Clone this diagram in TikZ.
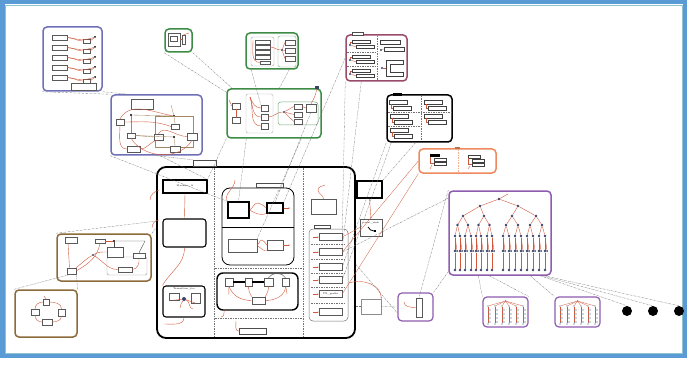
\documentclass[tikz,border=0pt]{standalone}
\usetikzlibrary{fit,arrows.meta}
\definecolor{frameblue}{HTML}{5B9BD5}
\definecolor{frameteal}{HTML}{8CC3CF}
\definecolor{indigo}{HTML}{7070B8}
\definecolor{grn}{HTML}{3D8C45}
\definecolor{maroon}{HTML}{9A4B6B}
\definecolor{orng}{HTML}{EE8A5E}
\definecolor{purp}{HTML}{8E5CB2}
\definecolor{brwn}{HTML}{8C6A3C}
\definecolor{linkred}{HTML}{D2583C}
\definecolor{dotblue}{HTML}{3B4468}
\newcommand\tx{\fontsize{2.4}{2.8}\selectfont}
\tikzset{
 grp/.style={draw=#1, line width=1.5pt, rounded corners=4pt, inner sep=0pt},
 sbx/.style={draw=black!65, line width=0.35pt, inner sep=0pt, fill=white},
 tbx/.style={draw=black, line width=1.1pt, inner sep=0pt, fill=white},
 gline/.style={draw=black!55, line width=0.3pt, dash pattern=on 2pt off 0.8pt on 0.4pt off 0.8pt},
 rline/.style={draw=linkred, line width=0.4pt},
 bline/.style={draw=brwn!80, line width=0.35pt},
 sdot/.style={circle, fill=#1, inner sep=0pt, minimum size=2.4pt},
 tdot/.style={circle, fill=dotblue, inner sep=0pt, minimum size=2.6pt},
 bigdot/.style={circle, fill=black, inner sep=0pt, minimum size=10pt},
 sepl/.style={draw=black!55, line width=0.35pt, dash pattern=on 1.5pt off 1pt},
 tabbox/.style={draw=black!70, line width=0.4pt, inner sep=0pt, fill=white},
 bar/.style={draw=black!75, line width=0.4pt, inner sep=0pt, fill=white},
}
\begin{document}
\begin{tikzpicture}[x=1pt,y=-1pt]
\useasboundingbox (0,0) rectangle (687,366);
% frame
\fill[frameblue] (0,0) rectangle (687,358);
\fill[white] (4.5,4.5) rectangle (683,354);
\draw[frameteal, line width=0.6pt] (5.5,5.5) rectangle (682,353);

% ---------------- satellite boxes ----------------
% A (indigo, rows)
\node[grp=indigo, fit={(43,27)(102,91)}] (A) {};
\foreach \i in {0,...,4}{
  \pgfmathsetmacro\yy{38+10*\i}
  \node[sbx, fit={(52,{\yy-3})(67,{\yy+2})}] (A-l\i) {};
  \node[sbx, fit={(83,{\yy+1})(90,{\yy+5})}] (A-r\i) {};
  \node[sdot=black, minimum size=2pt] (A-d\i) at (95,{\yy-1}) {};
  \draw[rline] (A-l\i.east) to[out=0,in=180] (A-r\i.west);
  \draw[rline] (A-l\i.east) to[out=-10,in=200] (A-d\i);
  \draw[rline] (A-r\i.east) -- (A-d\i);
}
\node[sbx, fit={(71,83)(96,90)}] (A-b) {};

% B (indigo)
\node[grp=indigo, fit={(111,95)(202,155)}] (B) {};
\node[sbx, fit={(131,99)(153,109)}] (B1) {};
\node[sdot=black] (Bd1) at (131,115) {};
\node[sdot=black] (Bd2) at (174,116) {};
\node[sdot=black] (Bd3) at (174,137) {};
\draw[bline] (155,116) rectangle (193,147);
\node[sbx, fit={(116,119)(124,125)}] (B2) {};
\node[sbx, fit={(127,133)(135,138)}] (B3) {};
\node[sbx, fit={(127,146)(140,152)}] (B4) {};
\node[sbx, fit={(154,134)(163,140)}] (B5) {};
\node[sbx, fit={(171,124)(179,129)}] (B6) {};
\node[sbx, fit={(187,133)(197,140)}] (B7) {};
\node[sbx, fit={(170,146)(180,152)}] (B8) {};
\draw[bline] (Bd1) -- (Bd2);
\draw[bline] (Bd1) -- (B3.north);
\draw[bline] (171,105) -- (Bd2);
\draw[bline] (Bd2) -- (B6.north);
\draw[bline] (B3.east) -- (B5.west);
\draw[bline] (B3.east) -- (Bd3);
\draw[bline] (Bd3) -- (B8.north);
\draw[rline] (B2.south) to[out=-90,in=180] (B4.west);
\draw[rline] (B2.east) to[out=0,in=160] (B6.west);
\draw[rline] (B3.south) to[out=-60,in=-120] (B7.south);
\draw[rline] (B4.east) to[out=0,in=180] (B5.south);
\draw[rline] (B5.north) to[out=60,in=180] (B7.west);
\draw[rline] (B2.north) to[out=60,in=170] (Bd2);

% C (green small)
\node[grp=grn, fit={(165,29)(192,52)}] (C) {};
\node[sbx, fit={(168,33)(180,46)}] (C1) {};
\node[sbx, fit={(170,36)(177,41)}] (C2) {};
\node[sbx, fit={(182,35)(185,44)}] (C3) {};
\draw[rline] (C3.north) -- (189,33);
\draw[rline] (C1.east) -- (C3.west);

% D (green)
\node[grp=grn, fit={(246,33)(298,69)}] (D) {};
\draw[draw=black!35, line width=0.4pt, rounded corners=2pt] (251,37) rectangle (274,66);
\draw[draw=grn!70, line width=0.4pt, rounded corners=2pt] (278,36) rectangle (296,67);
\foreach \i in {0,...,3}{\node[sbx, fit={(255,{40+5*\i})(270,{44+5*\i})}] (D-s\i) {};}
\node[sbx, fit={(260,61)(270,64)}] (D-b) {};
\node[sdot=dotblue] (Dd) at (282,50) {};
\foreach \i in {0,...,2}{\node[sbx, fit={(285,{40+8*\i})(295,{45+8*\i})}] (D-r\i) {}; \draw[rline] (Dd) -- (D-r\i.west);}
\draw[rline] (D-s1.east) to[out=0,in=180] (Dd);
\draw[rline] (253,40) to[out=-90,in=180] (D-b.west);

% E (green big)
\node[grp=grn, fit={(227,89)(321,138)}] (E) {};
\draw[draw=black!30, line width=0.4pt, rounded corners=2pt] (246,94) rectangle (273,133);
\draw[draw=grn!70, line width=0.5pt, rounded corners=3pt] (278,102) rectangle (318,125);
\node[sbx, fit={(232,103)(240,109)}] (E1) {};
\node[sbx, fit={(232,117)(240,123)}] (E2) {};
\draw[rline] (E1.south) -- (E2.north);
\draw[rline] (229,100) -- (E1.west);
\foreach \i in {0,...,2}{\node[sbx, fit={(261,{105+9*\i})(268,{111+9*\i})}] (E-m\i) {};
  \draw[rline] (250,97) to[out=-70,in=180] (E-m\i.west);}
\node[sdot=dotblue] (Ed) at (284,112) {};
\node[sbx, fit={(294,104)(302,109)}] (E-r1) {};
\node[sbx, fit={(294,112)(302,117)}] (E-r2) {};
\node[sbx, fit={(294,119)(302,124)}] (E-r3) {};
\node[sbx, fit={(306,104)(316,112)}] (E-r4) {};
\foreach \n in {E-r1,E-r2,E-r3}{\draw[rline] (Ed) -- (\n.west);}
\draw[rline] (E-r1.east) -- (E-r4.west);
\draw[rline] (E-m1.east) to[out=0,in=180] (Ed);
\node[fill=dotblue, inner sep=0pt, minimum size=3.5pt] (Esq) at (317,87.5) {};
\draw[rline] (Esq) to[out=-100,in=60] (E-r4.north);

% F (maroon)
\node[grp=maroon, fit={(346,35)(407,81)}] (F) {};
\node[tabbox, fit={(352,32)(363,35)}] (Ftab) {};
\draw[sepl] (377,36) -- (377,80);
\draw[sepl] (347,52) -- (376,52);
\draw[sepl] (347,66) -- (376,66);
\foreach \i/\yy in {0/40,1/55,2/69}{
  \node[bar, fit={(352,\yy)(370,{\yy+3.5})}] (F-a\i) {};
  \node[bar, fit={(356,{\yy+5})(374,{\yy+8.5})}] (F-b\i) {};
  \node[sdot=dotblue] (F-d\i) at (350,{\yy+5}) {};
  \draw[rline] (F-d\i) -- (F-b\i.west);
  \draw[rline] (F-d\i) |- (F-a\i.west);
}
\node[bar, fit={(380,40)(400,44)}] (F-c1) {};
\node[bar, fit={(384,47)(404,51)}] (F-c2) {};
\node[sdot=dotblue] (F-d3) at (381,50) {};
\draw[rline] (F-d3) -- (F-c2.west);
\draw[black!75, line width=0.4pt] (386,60) -- (403,60) -- (403,64) -- (390,64) -- (390,72) -- (403,72) -- (403,76) -- (386,76) -- cycle;
\node[sdot=dotblue] (F-d4) at (382,68) {};
\draw[rline] (F-d4) -- (386,68);

% G (black)
\node[grp=black, fit={(387,95)(452,142)}] (G) {};
\node[fill=black, inner sep=0pt, fit={(393,93)(402,96)}] (Gtab) {};
\draw[sepl] (421,96) -- (421,141);
\draw[sepl] (388,112) -- (451,112);
\draw[sepl] (388,126) -- (420,126);
\foreach \i/\xa/\yy in {0/389/100,1/390/114,2/390/128,3/424/100,4/424/114}{
  \node[bar, fit={(\xa,\yy)({\xa+18},{\yy+4})}] (G-a\i) {};
  \node[bar, fit={({\xa+4},{\yy+6})({\xa+22},{\yy+10})}] (G-b\i) {};
  \draw[rline] (G-a\i.south west) ++(2,0) |- (G-b\i.west);
}

% H (orange)
\node[grp=orng, fit={(419,149)(496,173)}] (H) {};
\node[fill=orng!80!black, inner sep=0pt, fit={(455,147)(460,149.5)}] (Htab) {};
\draw[sepl, draw=orng!70] (458,150) -- (458,172);
\node[fill=black, inner sep=0pt, fit={(430,154)(440,157)}] (H-a) {};
\node[bar, fit={(434,158)(446,161)}] (H-b) {};
\node[bar, fit={(434,162)(446,165)}] (H-c) {};
\draw[rline] (H-a.south west) |- (H-c.west);
\draw[rline] (432,165) -- (430,169);
\node[bar, fit={(468,155)(480,158)}] (H-d) {};
\node[bar, fit={(472,159)(484,162)}] (H-e) {};
\node[bar, fit={(472,163)(484,166)}] (H-f) {};
\draw[rline] (H-d.south west) |- (H-f.west);
\draw[rline] (470,166) -- (468,169);

% I (brown)
\node[grp=brwn, fit={(57,234)(151,281)}] (I) {};
\draw[draw=black!40, line width=0.4pt, rounded corners=2pt] (107,257) rectangle (147,275);
\node[sbx, fit={(65,237)(77,243)}] (I1) {};
\node[sbx, fit={(95,239)(105,243)}] (I2) {};
\node[sdot=black] (Id1) at (114,241) {};
\node[sbx, fit={(107,247)(123,257)}] (I3) {};
\node[sbx, fit={(133,253)(145,258)}] (I4) {};
\node[sbx, fit={(118,267)(132,272)}] (I5) {};
\node[sbx, fit={(67,268)(76,274)}] (I6) {};
\node[sdot=dotblue] (Id2) at (93,255) {};
\draw[rline] (I1.south) ++(-3,0) -- ([xshift=-2pt]I6.north);
\draw[rline] (I2.east) -- (Id1);
\draw[black!70, line width=0.4pt] (Id1) |- (I3.north east);
\draw[black!70, line width=0.4pt] (Id1) -- (145,241) -- (I4.north);
\draw[rline] (I6.north east) to[out=40,in=-150] (Id2);
\draw[rline] (Id2) to[out=30,in=180] (I3.west);
\draw[rline] (I6.east) to[out=30,in=-100] (I2.south);
\draw[rline] (Id2) to[out=-30,in=180] (I5.west);
\draw[rline] (I4.south) to[out=-80,in=0] (I5.east);

% J (brown lower)
\node[grp=brwn, fit={(15,290)(77,337)}] (J) {};
\node[sbx, fit={(43,299)(49,305)}] (J1) {};
\node[sbx, fit={(31,309)(39,315)}] (J2) {};
\node[sbx, fit={(58,309)(65,316)}] (J3) {};
\node[sbx, fit={(42,319)(52,325)}] (J4) {};
\draw[rline] (J1.east) to[out=0,in=90] (J3.north);
\draw[rline] (J3.south) to[out=-90,in=0] (J4.east);
\draw[rline] (J4.west) to[out=180,in=-90] (J2.south);
\draw[rline] (J2.north) to[out=90,in=180] (J1.west);
\draw[rline] (J1.north) -- (44,296);

% ---------------- main structure ----------------
\node[grp=black, line width=1.8pt, rounded corners=9pt, fit={(157,167)(355,338)}] (main) {};
\node[tabbox, fit={(193,160)(216,166)}] (maintab) {};
\draw[sepl] (214,168) -- (214,337);
\draw[sepl] (303,168) -- (303,337);
\draw[sepl] (215,268) -- (302,268);
\draw[sepl] (215,318) -- (302,318);

% left column
\node[tbx, fit={(163,180)(207,193)}] (mA) {\tx Machine\_A};
\node[tbx, rounded corners=3pt, fit={(163,219)(206,247)}] (mB) {};
\node[tbx, rounded corners=3pt, fit={(163,286)(205,317)}] (mC) {};
\node[font=\tx] (mCt) at (184,289) {Transition\_foo};
\node[sbx, fit={(169,293)(179,300)}] (mC1) {};
\node[sbx, fit={(191,293)(200,303)}] (mC2) {};
\node[sdot=dotblue, minimum size=4pt] (mCd) at (184,299) {};
\draw[rline] (mA.south) -- (mB.north);
\draw[rline] (mB.south) to[out=-90,in=60] (mC.north west);
\draw[rline] (mC1.south) -- (mCd);
\draw[rline] (mCd) -- (mC2.south);
\draw[rline] (mCd) to[out=-20,in=180] (193,309);
\draw[rline] (mCd) to[out=-120,in=90] (180,308);
\draw[rline] (mC.south) to[out=-90,in=0] (164,324);
\draw[rline] (159,220) to[out=180,in=90] (152,228);
\draw[rline] (159,190) to[out=200,in=90] (150,200);

% middle upper group
\node[draw=black, line width=0.8pt, rounded corners=8pt, inner sep=0pt, fit={(222,188)(294,265)}] (mu) {};
\node[tabbox, fit={(256,183)(283,187)}] (mutab) {};
\draw[black, line width=0.8pt] (222,227) -- (294,227);
\node[tbx, line width=1.2pt, fit={(228,202)(249,218)}] (mu1) {};
\node[tbx, line width=1.2pt, fit={(267,203)(283,213)}] (mu2) {};
\node[sbx, fit={(228,239)(257,252)}] (mu3) {};
\node[sbx, fit={(267,240)(283,250)}] (mu4) {};
\draw[rline] (mu1.east) to[out=30,in=180] (258,203) to[out=0,in=150] (mu2.west);
\draw[rline] (mu1.east) to[out=-30,in=200] (mu2.south west);
\draw[rline, -{Stealth[length=1.5pt]}] (mu2.east) -- (290,208);
\draw[rline] (mu3.east) to[out=30,in=180] (262,240) to[out=0,in=150] (mu4.west);
\draw[rline] (mu3.east) to[out=-30,in=200] (mu4.south west);
\draw[rline, -{Stealth[length=1.5pt]}] (mu4.east) -- (290,245);
\draw[rline] (235,180) to[out=-90,in=120] (mu1.north west);

% middle lower group
\node[tbx, line width=1.4pt, rounded corners=6pt, fit={(217,273)(298,310)}, fill=none] (ml) {};
\node[sbx, line width=0.6pt, fit={(225,278)(233,286)}] (ml1) {};
\node[sbx, line width=0.6pt, fit={(245,278)(252,286)}] (ml2) {};
\node[sbx, line width=0.6pt, fit={(264,278)(273,286)}] (ml3) {};
\node[sbx, line width=0.6pt, fit={(282,278)(289,286)}] (ml4) {};
\node[sbx, line width=0.6pt, fit={(252,297)(265,304)}] (ml5) {};
\draw[black, line width=1.1pt] (ml1.east) -- (ml2.west);
\draw[black, line width=1.1pt] (ml2.east) -- (ml3.west);
\draw[black!70, line width=0.4pt] (ml3.north) to[out=60,in=120] (ml4.north);
\draw[rline] (ml1.south) to[out=-70,in=180] (ml5.west);
\draw[rline] (ml2.south) to[out=-90,in=120] (ml5.north west);
\draw[rline] (ml3.south) to[out=-90,in=60] (ml5.north east);
\draw[rline] (ml4.south) to[out=-90,in=0] (ml5.east);
\draw[rline] (ml1.south) to[out=-100,in=90] (229,295);
\draw[rline] (ml4.south) to[out=-80,in=90] (287,294);
\draw[rline] (ml.south west) ++(8,0) to[out=-90,in=0] (221,317);

\node[tabbox, line width=0.6pt, fit={(239,328)(266,334)}] (mbot) {};
\draw[rline] (mbot.west) to[out=180,in=-90] (236,321);

% right column
\node[sbx, fit={(311,199)(336,214)}] (ro) {};
\draw[rline] (ro.north) to[out=90,in=-90] (318,190) to[out=90,in=200] (325,185);
\node[draw=black!55, line width=0.5pt, rounded corners=4pt, inner sep=0pt, fit={(309,229)(348,321)}] (rc) {};
\node[tabbox, fit={(314,225)(330,228)}] (rctab) {};
\foreach \i/\yy in {1/237,2/252,3/267,4/280,5/294,6/312}{
  \node[sbx, line width=0.5pt, fit={(319,{\yy-3.5})(342,{\yy+3.5})}] (rc\i) {};
  \draw[rline, -{Stealth[length=1.3pt]}] (313,\yy) -- (rc\i.west);
}
\node[font=\tx] at (rc5) {TX\_prefix};
\foreach \yy in {244.5,259.5,273.5,287,303}{\draw[sepl] (311,\yy) -- (346,\yy);}

% right of main
\node[tbx, line width=1.2pt, fit={(357,181)(382,198)}] (ev) {};
\node[sbx, line width=0.5pt, fit={(360,219)(382,236)}] (evs) {};
\node[font=\tx] at (371,223) {event\_sink};
\draw[rline, -{Stealth[length=1.5pt]}] (ev.south) -- (evs.north);
\draw[black, line width=0.8pt] (368,227) to[out=-60,in=180] (374,231);
\node[fill=black, inner sep=0pt, minimum size=2pt] (evm) at (375,231) {};

\node[draw=black!45, line width=0.5pt, inner sep=0pt, fit={(361,299)(381,314)}] (Gb) {};
\draw[rline, -{Stealth[length=1.5pt]}] (349,283) to[out=20,in=90] (Gb.north east);

% purple small
\node[grp=purp, line width=1.2pt, fit={(398,293)(433,321)}] (Pb) {};
\node[sbx, fit={(416,298)(422,317)}] (Pin) {};
\draw[rline] (404,302) to[out=-90,in=180] (Pin.west);

% tree box
\node[grp=purp, fit={(449,191)(551,275)}] (T) {};
\node[tdot] (t0) at (499,199) {};
\draw[rline] (t0) -- (508,194);
\foreach \x [count=\i] in {480,518}{\node[tdot] (t1-\i) at (\x,206) {}; \draw[rline] (t0) -- (t1-\i);}
\foreach \x [count=\i] in {463,484,512,536}{
  \node[tdot] (t2-\i) at (\x,216) {};
  \pgfmathtruncatemacro\p{(\i+1)/2}
  \draw[rline] (t1-\p) -- (t2-\i);}
\foreach \x [count=\i] in {457.5,468,478.5,489.5,506,518,530,542}{
  \node[tdot] (t3-\i) at (\x,225) {};
  \pgfmathtruncatemacro\p{(\i+1)/2}
  \draw[rline] (t2-\p) -- (t3-\i);}
\foreach \x [count=\i] in {455,460,465,471,476,481,487,492,503,509,515,521,527,533,539,545}{
  \node[tdot] (t4-\i) at (\x,236) {};
  \node[tdot] (t5-\i) at (\x,251) {};
  \node[tdot] (t6-\i) at (\x,270) {};
  \node[tdot, minimum size=2pt] (t5b-\i) at ({\x+2},251) {};
  \pgfmathtruncatemacro\p{(\i+1)/2}
  \draw[rline] (t3-\p) -- (t4-\i);
  \draw[rline] (t4-\i) -- (t5-\i);
  \draw[rline] (t4-\i) -- (t5b-\i);
  \draw[rline] (t5-\i) -- (t6-\i);}

% small tree boxes
\node[grp=purp, line width=1.2pt, fit={(483,297)(528,327)}] (K1) {};
\node[grp=purp, line width=1.2pt, fit={(555,297)(600,327)}] (K2) {};
\foreach \cx/\nm in {505.5/ka,577.5/kb}{
  \node[tdot, minimum size=1.5pt] (\nm-r) at (\cx,301) {};
  \foreach \k in {0,...,5}{
    \pgfmathsetmacro\xx{\cx-17.5+7*\k}
    \node[tdot, minimum size=1.3pt] (\nm-c\k) at (\xx,306) {};
    \node[tdot, minimum size=1.1pt] (\nm-e\k) at (\xx,324) {};
    \draw[rline, line width=0.3pt] (\nm-r) -- (\nm-c\k);
    \draw[rline, line width=0.3pt] (\nm-c\k) -- (\nm-e\k);
    \foreach \m in {1,...,4}{
      \node[tdot, minimum size=1.1pt] (\nm-c\k-\m) at ({\xx+2},{306+4*\m}) {};
      \draw[black!50, line width=0.25pt] (\xx,{306+4*\m}) -- (\nm-c\k-\m);}
  }
}
\node[bigdot] (dot1) at (627,311) {};
\node[bigdot] (dot2) at (653,311) {};
\node[bigdot] (dot3) at (679,311) {};

% ---------------- connectors ----------------
\draw[gline] (A.south west) -- (B.north west);
\draw[gline] (A.south east) -- ([xshift=18pt]B.north west);
\draw[gline] (B.south west) -- (mu1.north west);
\draw[gline] ([xshift=50pt]B.south west) -- (mA.north east);
\draw[gline] (C.south west) -- ([yshift=-4pt]E.north west);
\draw[gline] (C.south east) -- ([xshift=6pt]E.north west);
\draw[gline] ([xshift=6pt]D.south west) -- (E-m0.north west);
\draw[gline] ([xshift=44pt]D.south west) -- ([xshift=53pt]E.north west);
\draw[gline] (E.south west) -- (mA.north east);
\draw[gline] ([xshift=20pt]E.south west) -- (mu1.north);
\draw[gline] ([xshift=75pt]E.south west) -- (mu3.north east);
\draw[gline] (E-r4.south) -- (mu2.north);
\draw[gline] (F.south west) -- (rc1.north east);
\draw[gline] ([xshift=16pt]F.south west) -- (rc2.north east);
\draw[gline] (F.west) -- (mu2.north east);
\draw[gline] (G.south west) -- (rc3.east);
\draw[gline] ([xshift=5pt]G.south west) -- (rc4.east);
\draw[gline] ([xshift=-4pt]G.south) -- (ev.north east);
\draw[rline, line width=0.3pt] (H.south west) -- (rc5.east);
\draw[rline, line width=0.3pt] (H.west) -- (rc2.east);
\draw[rline, line width=0.3pt] (rc1.east) -- (evs.west);
\draw[gline] (T.north west) -- (Pin.north);
\draw[gline] ([yshift=-8pt]T.north west) -- (rc2.east);
\draw[gline] ([yshift=4pt]T.south west) -- (Pb.north east);
\draw[gline] (main.east |- Gb.west) -- (Gb.west);
\draw[gline] (Gb.east) -- (Pb.west);
\draw[gline] ([yshift=-12pt]main.east) -- ([yshift=-6pt]Pb.west);
\draw[gline] ([xshift=30pt]T.south west) -- (K1.north west);
\draw[gline] ([xshift=41pt]T.south west) -- (K1.north east);
\draw[gline] ([xshift=82pt]T.south west) -- (K2.north west);
\draw[gline] ([xshift=92pt]T.south west) -- (dot1.north);
\draw[gline] ([xshift=94pt]T.south west) -- (dot2.north);
\draw[gline] ([xshift=96pt]T.south west) -- (dot3.north);
\draw[gline] (I.north west) -- ([yshift=-55pt]main.north west);
\draw[gline] (I.north east) -- ([yshift=-62pt]main.north west);
\draw[gline] (J.north west) -- (I6.south);
\draw[gline] (J.north east) -- (I6.south east);
\draw[gline] (B.south) -- (maintab.north west);
\end{tikzpicture}
\end{document}
